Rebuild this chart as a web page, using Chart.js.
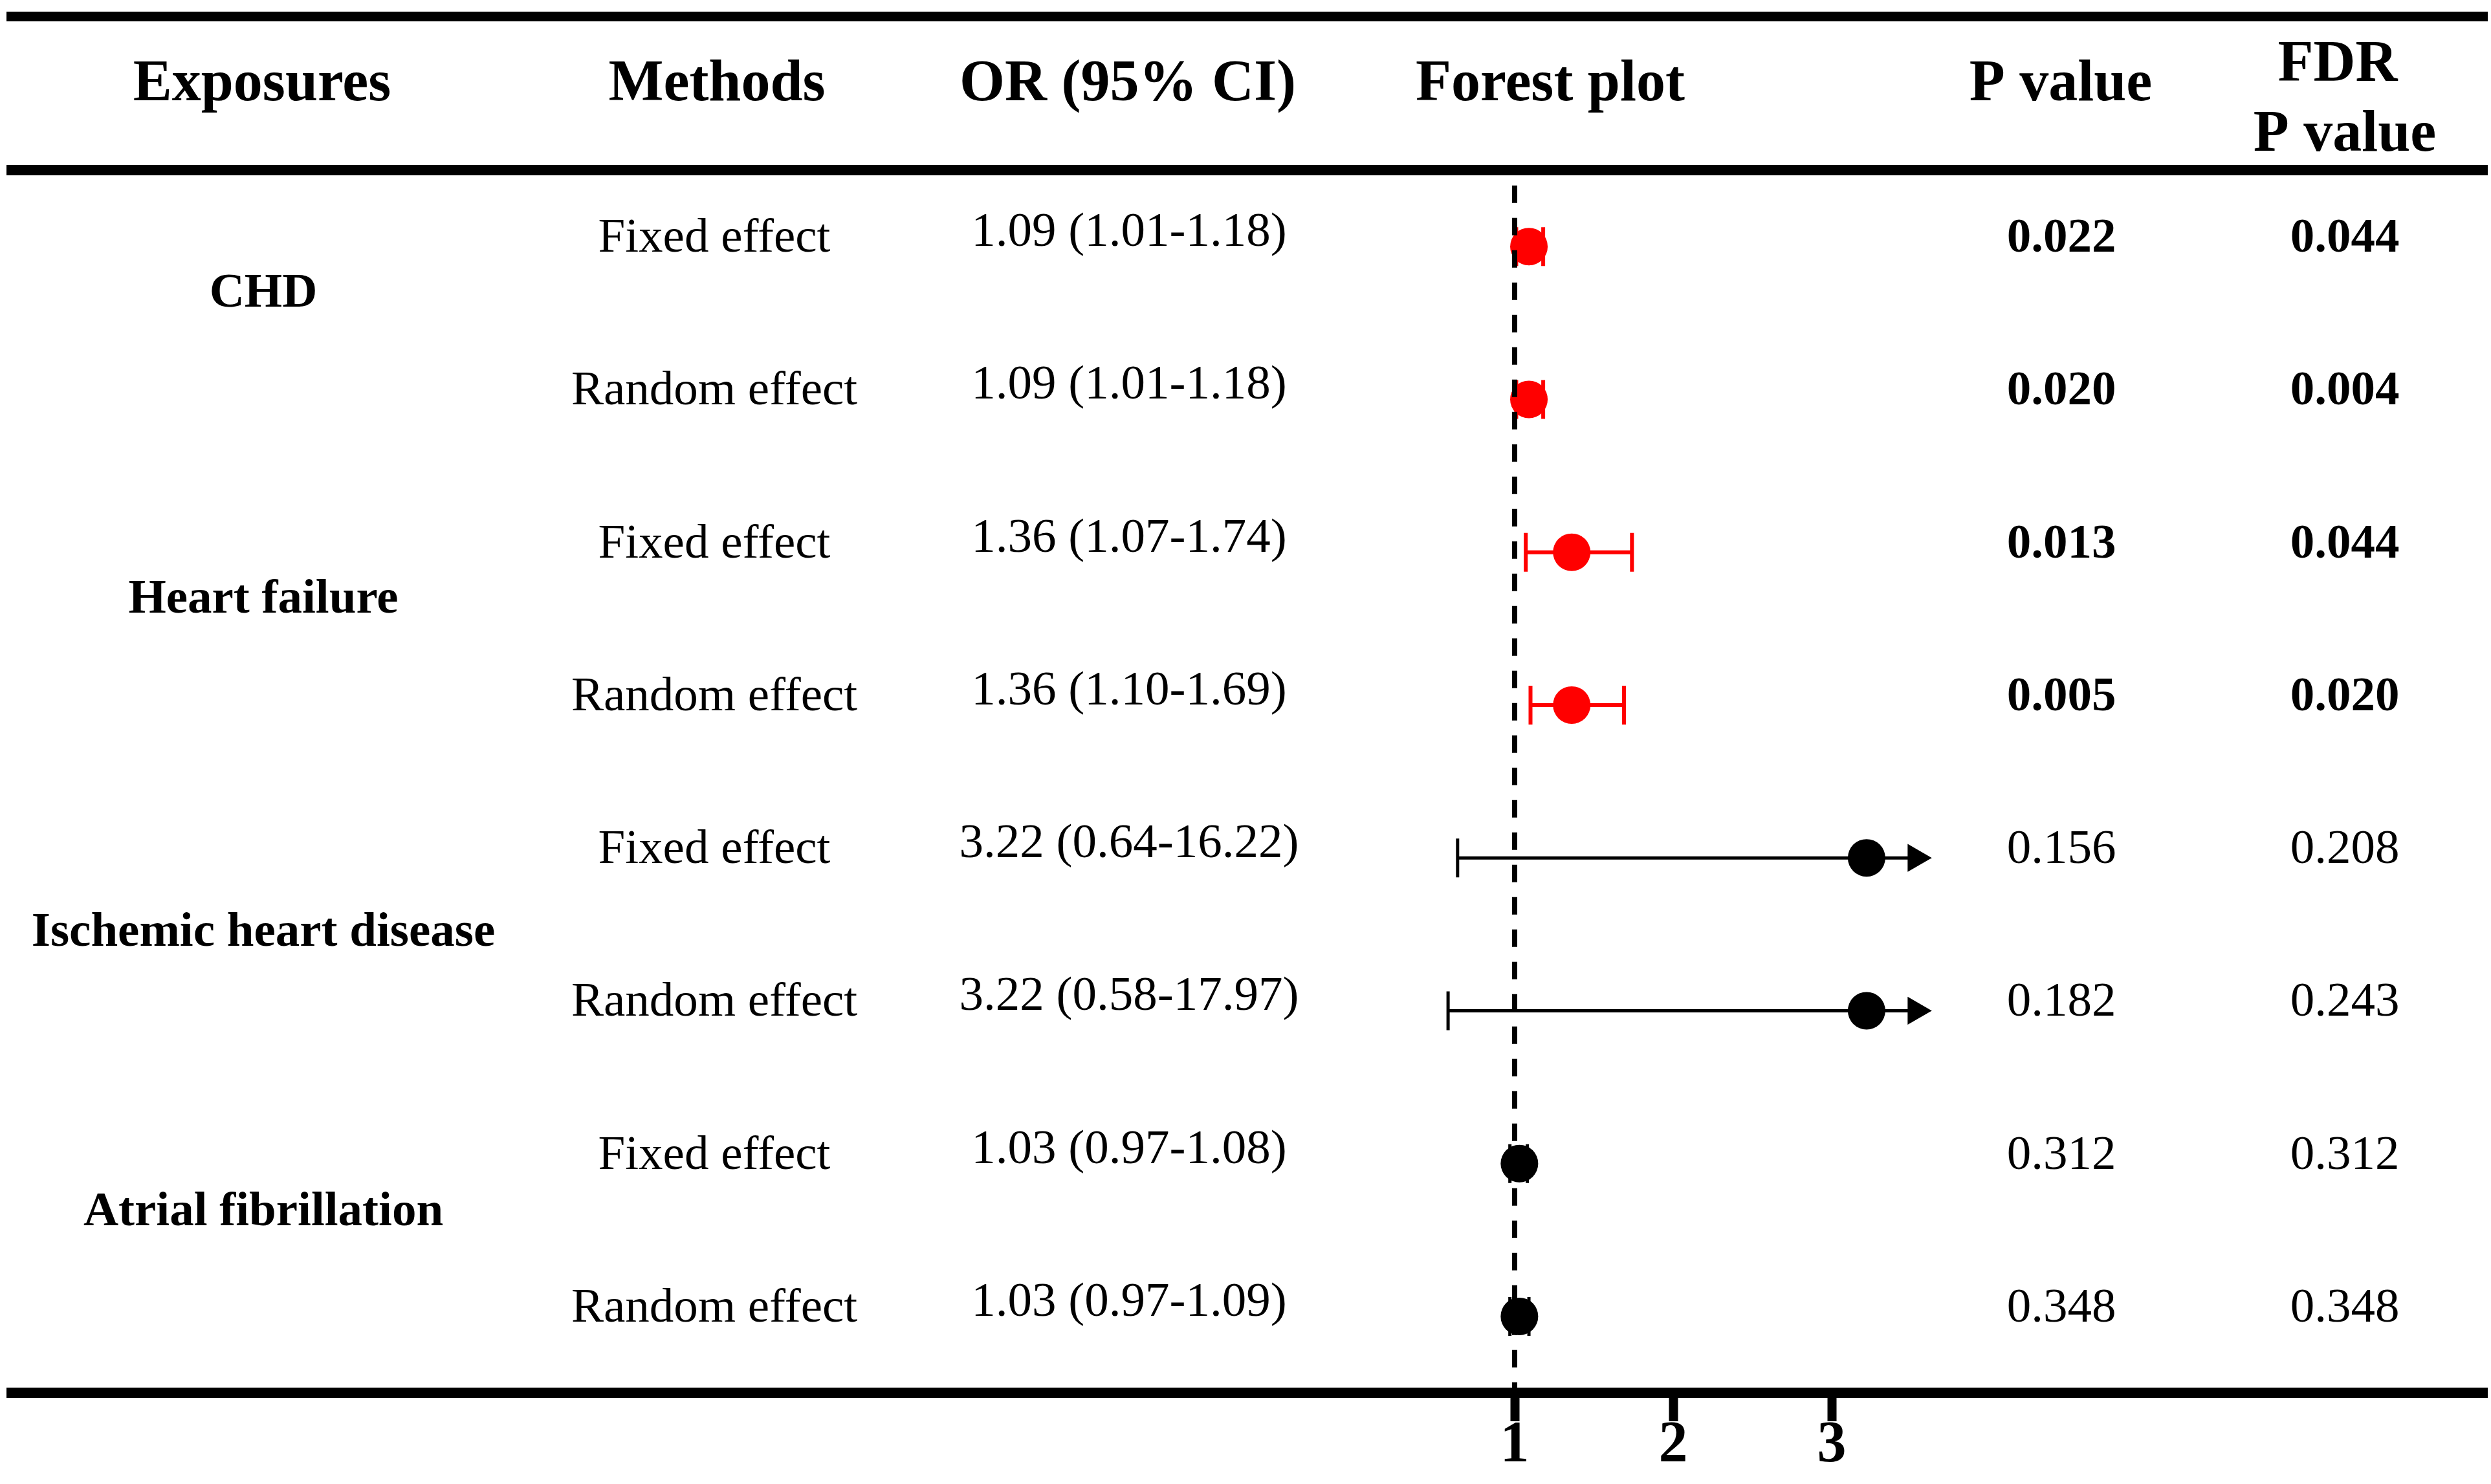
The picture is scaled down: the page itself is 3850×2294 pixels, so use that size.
<!DOCTYPE html>
<html>
<head>
<meta charset="utf-8">
<title>Forest plot</title>
<script src="https://cdn.jsdelivr.net/npm/chart.js@4.4.1/dist/chart.umd.min.js"></script>
<style>
  html, body { margin: 0; padding: 0; background: #fff; }
  canvas { display: block; }
</style>
</head>
<body>
<canvas id="forestChart" width="3850" height="2294"></canvas>
<script>
// Table values
const exposures = ['CHD', 'Heart failure', 'Ischemic heart disease', 'Atrial fibrillation'];
const methods = ['Fixed effect', 'Random effect', 'Fixed effect', 'Random effect',
                 'Fixed effect', 'Random effect', 'Fixed effect', 'Random effect'];
const orValues = [1.09, 1.09, 1.36, 1.36, 3.22, 3.22, 1.03, 1.03];
const ciLower = [1.01, 1.01, 1.07, 1.10, 0.64, 0.58, 0.97, 0.97];
const ciUpper = [1.18, 1.18, 1.74, 1.69, 16.22, 17.97, 1.08, 1.09];
const pValues = [0.022, 0.020, 0.013, 0.005, 0.156, 0.182, 0.312, 0.348];
const fdrValues = [0.044, 0.004, 0.044, 0.020, 0.208, 0.243, 0.312, 0.348];
const xTicks = [1, 2, 3];
const nullValue = 1;
const axisCap = 3.53;   // intervals running past this end in an arrow

// Layout
const W = 3850, H = 2294;
const FONT = '"Liberation Serif", "Times New Roman", serif';
const COLS = { exposure: 407, method: 1104, or: 1745, p: 3186, fdr: 3624 };
const GROUP_SHIFT = [-50, -50, -7, -48];

const colors = pValues.map(p => p < 0.05 ? '#ff0000' : '#000000');

function fmt2(v) { return v.toFixed(2); }

const tablePlugin = {
    id: 'tablePlugin',
    beforeDraw(chart) {
        const ctx = chart.ctx;
        ctx.save();
        ctx.fillStyle = '#fff';
        ctx.fillRect(0, 0, W, H);
        ctx.restore();
    },
    afterDraw(chart) {
        const ctx = chart.ctx;
        const y = chart.scales.y;
        ctx.save();
        ctx.fillStyle = '#000';

        // horizontal rules
        ctx.fillRect(10, 18, 3835, 15);
        ctx.fillRect(10, 255, 3835, 16);
        ctx.fillRect(10, 2145, 3835, 16);

        // header
        ctx.textAlign = 'center';
        ctx.textBaseline = 'alphabetic';
        ctx.font = 'bold 90px ' + FONT;
        ctx.fillText('Exposures', 405, 155);
        ctx.fillText('Methods', 1108, 155);
        ctx.fillText('OR (95% CI)', 1743, 155);
        ctx.fillText('Forest plot', 2396, 155);
        ctx.fillText('P value', 3185, 155);
        ctx.fillText('FDR', 3613, 125);
        ctx.fillText('P value', 3624, 233);

        // group labels
        ctx.font = 'bold 75px ' + FONT;
        exposures.forEach((name, g) => {
            const mid = (y.getPixelForValue(g * 2) + y.getPixelForValue(g * 2 + 1)) / 2;
            ctx.fillText(name, COLS.exposure, mid + GROUP_SHIFT[g] + 25);
        });

        // rows
        orValues.forEach((v, i) => {
            const py = y.getPixelForValue(i);
            ctx.font = '75px ' + FONT;
            ctx.fillText(methods[i], COLS.method, py + 8);
            ctx.fillText(fmt2(v) + ' (' + fmt2(ciLower[i]) + '-' + fmt2(ciUpper[i]) + ')', COLS.or, py - 1);
            ctx.font = (pValues[i] < 0.05 ? 'bold ' : '') + '75px ' + FONT;
            ctx.fillText(pValues[i].toFixed(3), COLS.p, py + 8);
            ctx.font = (fdrValues[i] < 0.05 ? 'bold ' : '') + '75px ' + FONT;
            ctx.fillText(fdrValues[i].toFixed(3), COLS.fdr, py + 8);
        });
        ctx.restore();
    }
};

const errorBars = orValues.map((v, i) => {
    const arrow = ciUpper[i] > axisCap;
    const sig = pValues[i] < 0.05;
    const w = sig ? 6 : 5;
    return {
        type: 'line',
        data: [{ x: ciLower[i], y: i }, { x: Math.min(ciUpper[i], axisCap), y: i }],
        borderColor: colors[i],
        borderWidth: w,
        tension: 0,
        pointStyle: ['line', arrow ? 'triangle' : 'line'],
        rotation: 90,
        pointRadius: [30, arrow ? 20 : 30],
        pointBorderColor: colors[i],
        pointBackgroundColor: colors[i],
        pointBorderWidth: w,
        order: 2
    };
});

new Chart(document.getElementById('forestChart'), {
    type: 'scatter',
    data: {
        datasets: [
            {
                type: 'line',
                data: [{ x: nullValue, y: -0.4 }, { x: nullValue, y: 7.5 }],
                borderColor: '#000',
                borderWidth: 8,
                borderDash: [27, 23],
                pointRadius: 0,
                order: 0
            },
            {
                type: 'scatter',
                data: orValues.map((v, i) => ({ x: v, y: i })),
                pointRadius: 29,
                pointBackgroundColor: colors,
                pointBorderColor: colors,
                pointBorderWidth: 0,
                order: 1
            },
            ...errorBars
        ]
    },
    options: {
        responsive: false,
        devicePixelRatio: 1,
        animation: false,
        events: [],
        layout: {
            padding: { left: 2096, right: 651.5, top: 263, bottom: 0 }
        },
        plugins: {
            legend: { display: false },
            tooltip: { enabled: false }
        },
        scales: {
            x: {
                type: 'linear',
                min: 0,
                max: 4.5,
                afterBuildTicks: (scale) => {
                    scale.ticks = xTicks.map(v => ({ value: v }));
                },
                afterFit: (scale) => {
                    scale.height = 141;
                },
                grid: {
                    drawOnChartArea: false,
                    drawTicks: true,
                    tickLength: 44,
                    tickWidth: 14,
                    tickColor: '#000'
                },
                border: { display: false },
                ticks: {
                    color: '#000',
                    autoSkip: false,
                    maxRotation: 0,
                    padding: -6,
                    font: { family: 'Liberation Serif', size: 90, weight: 'bold', lineHeight: 1 }
                }
            },
            y: {
                type: 'linear',
                display: false,
                min: -0.5,
                max: 7.5,
                reverse: true
            }
        }
    },
    plugins: [tablePlugin]
});
</script>
</body>
</html>
